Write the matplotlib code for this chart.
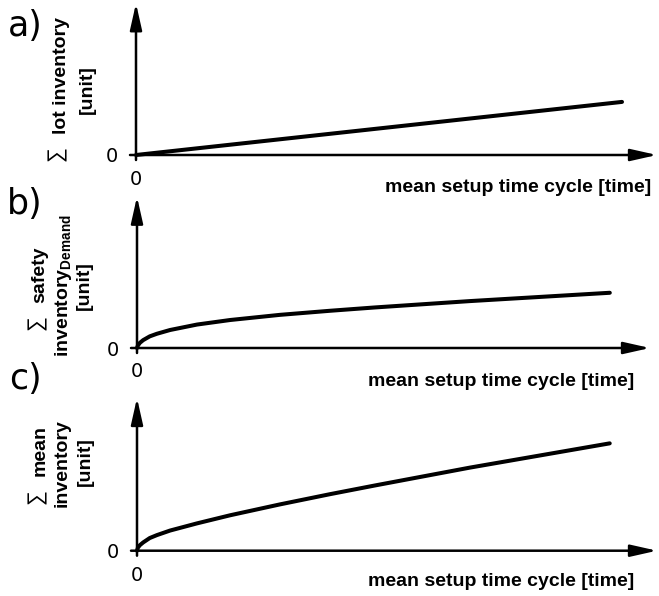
import matplotlib
matplotlib.use("Agg")
import matplotlib.pyplot as plt

# =========================
# DATA
# =========================
# a) lot inventory grows linearly with the mean setup time cycle
A_X = [0, 100]
A_Y = [0, 35]

# b) safety inventory (demand) grows like a root function
B_X = [0, 0.2, 0.6, 1.3, 2.7, 4.2, 7.0, 12.7, 19.7, 30.2, 40.8, 50.3, 70.4, 100]
B_Y = [0, 1.7, 3.4, 5.2, 7.7, 9.4, 11.9, 15.5, 18.5, 21.9, 24.6, 26.8, 31.0, 36.5]

# c) mean inventory = sum of both
C_X = [0, 0.2, 0.6, 1.3, 2.7, 4.2, 7.0, 12.7, 19.7, 30.2, 40.8, 50.3, 70.4, 100]
C_Y = [0, 2.0, 3.6, 5.4, 8.3, 10.2, 13.2, 17.9, 23.2, 30.3, 37.0, 42.7, 54.4, 70.3]

PANEL_TAGS = ["a)", "b)", "c)"]
XLABEL = "mean setup time cycle [time]"
ZERO_TICK = ["0"]

# =========================
# LAYOUT (pixels of a 659x596 canvas)
# =========================
W, H = 659, 596
BOLD = ["Liberation Sans", "DejaVu Sans"]
REG = ["Liberation Sans", "DejaVu Sans"]

plt.rcParams["mathtext.fontset"] = "custom"
plt.rcParams["mathtext.rm"] = "Liberation Sans"
plt.rcParams["mathtext.bf"] = "Liberation Sans:bold"

fig = plt.figure(figsize=(W / 100, H / 100), dpi=100)


def fx(x):
    return x / W


def fy(y):
    return 1 - y / H


def ptext(x, y, s, **kw):
    fig.text(fx(x), fy(y), s, **kw)


def panel(x0, y0, xtip, ytip, xmax, xs, ys, xpad, ypad):
    ax = fig.add_axes([fx(x0), fy(y0), (xtip - x0) / W, (y0 - ytip) / H])
    ax.set_xlim(0, xmax)
    ax.set_ylim(0, 100)
    for s in ax.spines.values():
        s.set_visible(False)
    ax.set_xticks([0])
    ax.set_xticklabels(ZERO_TICK, fontsize=14, family="DejaVu Sans")
    ax.set_yticks([0])
    ax.set_yticklabels(ZERO_TICK, fontsize=14, family="DejaVu Sans")
    ax.tick_params(axis="x", length=0, pad=xpad)
    ax.tick_params(axis="y", length=0, pad=ypad)
    ax.patch.set_visible(False)

    lx = (xtip - x0)
    ly = (y0 - ytip)
    arrow = dict(arrowstyle="-|>,head_length=1.6,head_width=0.36", lw=1.8,
                 color="black", shrinkA=0, shrinkB=0, mutation_scale=10)
    ax.annotate("", xy=(1, 0), xytext=(-6 / lx, 0), xycoords="axes fraction",
                arrowprops=arrow)
    ax.annotate("", xy=(0, 1), xytext=(0, -5 / ly), xycoords="axes fraction",
                arrowprops=arrow)
    ax.plot(xs, ys, color="black", lw=2.9, solid_capstyle="round",
            solid_joinstyle="round", clip_on=False)
    return ax


# a)
panel(136, 155, 657, 3.3, 107.2, A_X, A_Y, xpad=11, ypad=13)
# b)
panel(137, 348, 650, 196.7, 108.5, B_X, B_Y, xpad=10, ypad=13)
# c)
panel(137, 550.7, 657, 398, 110, C_X, C_Y, xpad=11, ypad=13)

# panel tags
for tag, y in zip(PANEL_TAGS, [26, 204, 379]):
    ptext(25, y, tag, fontsize=25, family="DejaVu Sans", ha="center", va="center")

# x labels
for x, y in [(385, 188), (368, 382), (368, 582)]:
    ptext(x, y, XLABEL, fontsize=14, family=BOLD, weight="bold",
          ha="left", va="center")

# y labels (rotated), sum sign drawn in regular weight
ykw = dict(rotation=90, ha="center", va="center", fontsize=14,
           family=BOLD, weight="bold")
skw = dict(rotation=90, ha="center", va="center", fontsize=15, family=REG)
# a)
ptext(57, 154, "\u2211", **skw)
ptext(62, 76, "lot inventory", **ykw)
ptext(87, 90, "[unit]", **ykw)
# b)
ptext(37, 323, "\u2211", **skw)
ptext(40, 275, "safety", **ykw)
ptext(63, 286, r"inventory$_{\mathbf{Demand}}$", **ykw)
ptext(84, 286, "[unit]", **ykw)
# c)
ptext(37, 497, "\u2211", **skw)
ptext(40, 451, "mean", **ykw)
ptext(62, 463, "inventory", **ykw)
ptext(85, 462, "[unit]", **ykw)

fig.savefig("out.png", dpi=100)
